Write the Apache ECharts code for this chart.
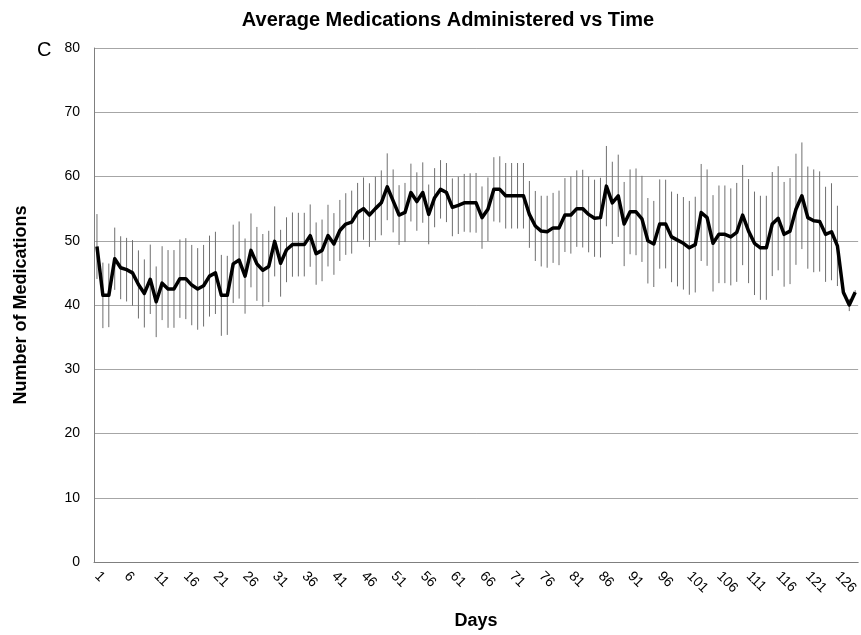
<!DOCTYPE html>
<html>
<head>
<meta charset="utf-8">
<title>Average Medications Administered vs Time</title>
<script src="https://cdn.jsdelivr.net/npm/echarts@6/dist/echarts.min.js"></script>
<style>
  html, body { margin: 0; padding: 0; background: #fff; }
  #chart1 { width: 861px; height: 635px; }
</style>
</head>
<body>
<div id="chart1"></div>
<script>
// average per day
var avgMeds = [
    49.1, 41.5, 41.5, 47.2, 45.8, 45.5, 45.0, 43.2, 41.8, 44.0,
    40.5, 43.4, 42.5, 42.5, 44.1, 44.1, 43.1, 42.5, 43.0, 44.5,
    45.0, 41.5, 41.5, 46.4, 47.0, 44.5, 48.5, 46.4, 45.4, 46.0,
    49.9, 46.5, 48.6, 49.4, 49.4, 49.4, 50.8, 48.0, 48.5, 50.8,
    49.5, 51.6, 52.6, 52.9, 54.4, 55.0, 54.0, 55.0, 55.9, 58.4,
    56.2, 54.0, 54.4, 57.5, 56.1, 57.5, 54.1, 56.7, 58.0, 57.5,
    55.2, 55.5, 55.9, 55.9, 55.9, 53.6, 54.9, 58.0, 58.0, 57.0,
    57.0, 57.0, 57.0, 54.1, 52.3, 51.5, 51.4, 52.0, 52.0, 54.0,
    54.0, 55.0, 55.0, 54.1, 53.5, 53.6, 58.5, 55.9, 57.0, 52.6,
    54.5, 54.5, 53.4, 50.0, 49.5, 52.6, 52.6, 50.6, 50.1, 49.6,
    48.9, 49.4, 54.4, 53.6, 49.6, 51.0, 51.0, 50.6, 51.3, 54.0,
    51.5, 49.6, 48.9, 48.9, 52.6, 53.5, 51.0, 51.5, 54.9, 57.0,
    53.6, 53.1, 53.0, 51.0, 51.4, 49.2, 42.0, 40.0, 42.0
];
// error bar half length per day
var errMeds = [
    5.05, 5.1, 4.95, 4.85, 4.9, 4.95, 5.1, 5.3, 5.3, 5.4,
    5.5, 5.75, 6.05, 6.05, 6.1, 6.3, 6.25, 6.35, 6.35, 6.3,
    6.4, 6.3, 6.15, 6.1, 6.0, 5.85, 5.75, 5.75, 5.65, 5.55,
    5.45, 5.2, 5.05, 5.0, 4.95, 4.95, 4.85, 4.85, 4.8, 4.8,
    4.8, 4.75, 4.8, 4.9, 4.6, 4.85, 4.95, 4.95, 5.05, 5.2,
    4.9, 4.65, 4.6, 4.5, 4.55, 4.7, 4.65, 4.6, 4.55, 4.6,
    4.5, 4.45, 4.5, 4.6, 4.65, 4.85, 4.95, 5.0, 5.15, 5.1,
    5.1, 5.1, 5.1, 5.2, 5.45, 5.5, 5.6, 5.45, 5.8, 5.75,
    6.0, 5.95, 6.05, 5.9, 6.0, 6.2, 6.25, 6.4, 6.4, 6.55,
    6.6, 6.75, 6.7, 6.65, 6.7, 6.95, 6.9, 7.05, 7.2, 7.2,
    7.3, 7.45, 7.55, 7.5, 7.5, 7.6, 7.6, 7.55, 7.7, 7.8,
    8.1, 8.05, 8.1, 8.1, 8.1, 8.1, 8.15, 8.25, 8.65, 8.3,
    7.95, 8.0, 7.8, 7.4, 7.55, 6.25, 0.5, 0.95, 0.3
];
var yTicks = [0, 10, 20, 30, 40, 50, 60, 70, 80];

var days = [];
for (var i = 0; i < avgMeds.length; i++) {
    days.push(String(i + 1));
}

var errData = [];
for (var j = 0; j < avgMeds.length; j++) {
    errData.push([j, avgMeds[j] - errMeds[j], avgMeds[j] + errMeds[j]]);
}

var myChart = echarts.init(document.getElementById("chart1"));
var font = "'Liberation Sans', Arial, sans-serif";

option = {
    animation: false,
    textStyle: { fontFamily: font },
    title: [{
        text: "Average Medications Administered vs Time",
        left: 443,
        top: 5,
        textAlign: "center",
        textStyle: { fontSize: 20, fontWeight: "bold", color: "#000", fontFamily: font }
    }, {
        text: "C",
        left: 32,
        top: 35,
        textStyle: { fontSize: 20, fontWeight: "normal", color: "#000", fontFamily: font }
    }],
    grid: { left: 94, right: 0, top: 48, bottom: 73, containLabel: false },
    xAxis: {
        type: "category",
        data: days,
        boundaryGap: true,
        name: "Days",
        nameLocation: "middle",
        nameGap: 50,
        nameTextStyle: { fontSize: 18, fontWeight: "bold", color: "#000" },
        axisLine: { lineStyle: { color: "#7f7f7f", width: 1 } },
        axisTick: { show: false },
        axisLabel: { interval: 4, rotate: -45, fontSize: 14, color: "#000", margin: 12 }
    },
    yAxis: {
        type: "value",
        min: yTicks[0],
        max: yTicks[yTicks.length - 1],
        interval: 10,
        name: "Number of Medications",
        nameLocation: "middle",
        nameGap: 64,
        nameTextStyle: { fontSize: 18, fontWeight: "bold", color: "#000" },
        axisLine: { show: true, lineStyle: { color: "#7f7f7f", width: 1 } },
        axisTick: { show: false },
        axisLabel: { fontSize: 14, color: "#000", margin: 14 },
        splitLine: { lineStyle: { color: "#a6a6a6", width: 1 } }
    },
    series: [{
        type: "custom",
        data: errData,
        encode: { x: 0, y: [1, 2] },
        z: 1,
        renderItem: function (params, api) {
            var lo = api.coord([api.value(0), api.value(1)]);
            var hi = api.coord([api.value(0), api.value(2)]);
            return {
                type: "line",
                shape: { x1: lo[0], y1: lo[1], x2: hi[0], y2: hi[1] },
                style: { stroke: "#6f6f6f", lineWidth: 1 }
            };
        }
    }, {
        type: "line",
        data: avgMeds,
        z: 3,
        symbol: "none",
        lineStyle: { color: "#000", width: 3.5, join: "round" }
    }]
};
myChart.setOption(option);
</script>
</body>
</html>
